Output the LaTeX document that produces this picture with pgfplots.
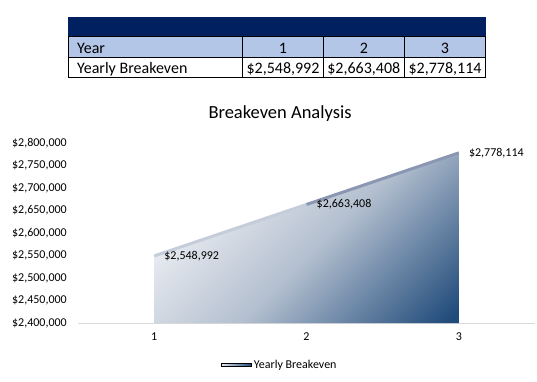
\documentclass[border=0pt]{standalone}
\usepackage{fontspec}
\setmainfont{Carlito}
\usepackage{pgfplots}
\pgfplotsset{compat=1.18}
\definecolor{navy}{HTML}{002060}
\definecolor{rowblue}{HTML}{B4C6E7}
\definecolor{fillLight}{HTML}{F4F5F8}
\definecolor{fillMid}{HTML}{B3BFCF}
\definecolor{fillDark}{HTML}{1F4A7A}
\definecolor{lineA}{HTML}{E2E6EE}
\definecolor{lineB}{HTML}{6F7D9E}
\definecolor{axgray}{HTML}{D9D9D9}
\pgfdeclareverticalshading{bshade}{100bp}{color(0bp)=(fillDark); color(16bp)=(fillDark); color(47bp)=(fillMid); color(76bp)=(fillLight); color(100bp)=(fillLight)}
\pgfplotsset{colormap={bline}{color=(lineA) color=(lineB)}}
\begin{document}
\begin{tikzpicture}
\useasboundingbox (0pt,0pt) rectangle (537pt,381pt);
% table
\fill[navy] (68.3pt,364.3pt) rectangle (485.7pt,344.3pt);
\fill[rowblue] (68.3pt,344.3pt) rectangle (485.7pt,323.3pt);
\draw[black, line width=0.8pt] (68.3pt,344.3pt) rectangle (485.7pt,303.3pt);
\draw[black, line width=0.8pt] (68.3pt,323.3pt) -- (485.7pt,323.3pt);
\foreach \xx in {242.7,323.3,404.3} {\draw[black, line width=0.8pt] (\xx pt,344.3pt) -- (\xx pt,303.3pt);}
\begin{scope}[every node/.style={inner sep=0pt, font=\fontsize{16}{18}\selectfont, anchor=base}]
\node[anchor=base west] at (77pt,327.7pt) {Year};
\node at (283pt,327.7pt) {1};
\node at (363.8pt,327.7pt) {2};
\node at (445pt,327.7pt) {3};
\node[anchor=base west] at (77pt,307pt) {Yearly Breakeven};
\node at (283pt,307pt) {\$2,548,992};
\node at (363.8pt,307pt) {\$2,663,408};
\node at (445pt,307pt) {\$2,778,114};
\end{scope}
\begin{axis}[
  at={(78pt,58pt)}, anchor=south west,
  scale only axis, width=457pt, height=180pt,
  xmin=0.5, xmax=3.5, ymin=2400000, ymax=2800000,
  scaled y ticks=false,
  xtick={1,2,3}, xticklabels={1,2,3},
  ytick={2400000,2450000,2500000,2550000,2600000,2650000,2700000,2750000,2800000},
  yticklabels={{\$2,400,000},{\$2,450,000},{\$2,500,000},{\$2,550,000},{\$2,600,000},{\$2,650,000},{\$2,700,000},{\$2,750,000},{\$2,800,000}},
  axis line style={draw=none},
  major tick length=0pt,
  tick label style={font=\fontsize{12}{14}\selectfont, inner sep=0pt},
  yticklabel style={anchor=east, xshift=-11pt},
  xticklabel style={anchor=north, yshift=-10pt},
  title={Breakeven Analysis},
  title style={at={(axis description cs:0.442,1.128)}, anchor=center, font=\fontsize{18.5}{20}\selectfont, inner sep=0pt},
  legend style={at={(axis description cs:0.442,-0.233)}, anchor=center, draw=none, fill=none, font=\fontsize{12}{14}\selectfont, inner sep=0pt, /tikz/every even column/.append style={column sep=0pt}},
  legend cell align=left,
  clip=false,
]
\draw[axgray, line width=0.8pt] (axis cs:0.5,2400000) -- (axis cs:3.5,2400000);
\addplot[draw=none, shade, shading=bshade, shading angle=45, forget plot]
  coordinates {(1,2548992) (2,2663408) (3,2778114)} \closedcycle;
\addplot[mesh, colormap name=bline, line width=3pt, point meta=x, point meta min=1, point meta max=3, forget plot]
  coordinates {(1,2548992) (2,2663408) (3,2778114)};
\addplot[draw=none, only marks, mark=none, point meta=explicit symbolic,
  nodes near coords, nodes near coords style={anchor=west, xshift=10pt, font=\fontsize{12}{14}\selectfont, inner sep=0pt, text=black}, forget plot]
  coordinates {(1,2548992) [\$2,548,992] (2,2663408) [\$2,663,408] (3,2778114) [\$2,778,114]};
\addlegendimage{legend image code/.code={\shade[left color=lineA, right color=fillDark] (0pt,-1.5pt) rectangle (30pt,1.5pt);}}
\addlegendentry{Yearly Breakeven}
\end{axis}
\end{tikzpicture}
\end{document}
